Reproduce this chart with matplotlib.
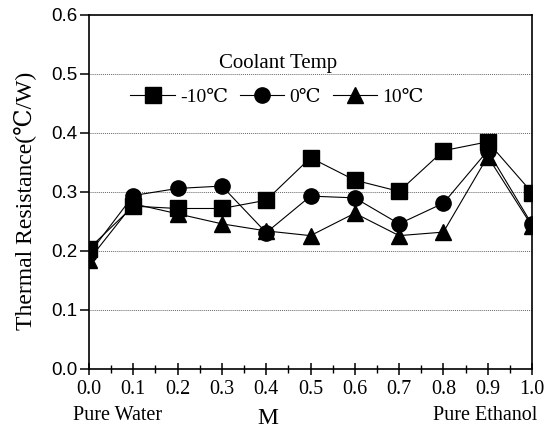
import matplotlib
matplotlib.use("Agg")
import matplotlib.pyplot as plt
from matplotlib.ticker import MultipleLocator

M = [0.0, 0.1, 0.2, 0.3, 0.4, 0.5, 0.6, 0.7, 0.8, 0.9, 1.0]
r_m10 = [0.204, 0.276, 0.272, 0.272, 0.286, 0.358, 0.320, 0.301, 0.370, 0.385, 0.299]
r_0 = [0.195, 0.294, 0.306, 0.310, 0.231, 0.293, 0.290, 0.246, 0.281, 0.370, 0.245]
r_10 = [0.185, 0.280, 0.263, 0.246, 0.234, 0.226, 0.264, 0.226, 0.232, 0.360, 0.242]
labels = ["-10\u2103", "0\u2103", "10\u2103"]
yticks = [0.0, 0.1, 0.2, 0.3, 0.4, 0.5, 0.6]
xticks = M

serif = ["Liberation Serif", "DejaVu Serif"]
sans = ["Liberation Sans", "DejaVu Sans"]

fig = plt.figure(figsize=(5.47, 4.30), dpi=100)
ax = fig.add_axes([0.1627, 0.1419, 0.8099, 0.8233])

ax.plot(M, r_m10, color="black", lw=0.8, marker="s", ms=11, label=labels[0], zorder=3)
ax.plot(M, r_0, color="black", lw=0.8, marker="o", ms=11, label=labels[1], zorder=3)
ax.plot(M, r_10, color="black", lw=0.8, marker="^", ms=12, label=labels[2], zorder=3)

ax.set_xlim(0, 1.0)
ax.set_ylim(0, 0.6)
ax.set_yticks(yticks)
ax.set_yticklabels([f"{v:.1f}" for v in yticks], family=sans, fontsize=13.5)
ax.set_xticks(xticks)
ax.set_xticklabels([f"{v:.1f}" for v in xticks], family=serif, fontsize=14.5)
ax.xaxis.set_minor_locator(MultipleLocator(0.05))
ax.tick_params(axis="x", which="major", direction="inout", length=8.5, width=1.1, pad=4)
ax.tick_params(axis="x", which="minor", direction="inout", length=5.8, width=1.0)
ax.tick_params(axis="y", which="major", direction="out", length=6.5, width=1.1, pad=2)

for y in yticks[1:-1]:
    ax.axhline(y, color="#666666", lw=0.7, ls=(0, (1, 1)), zorder=1)

for s in ax.spines.values():
    s.set_linewidth(1.2)

ax.set_ylabel("Thermal Resistance(\u2103/W)", family=serif, fontsize=17)
ax.yaxis.label.set_va("center")
ax.yaxis.set_label_coords(-0.1445, 0.4746)

ax.text(-0.036, -0.144, "Pure Water", transform=ax.transAxes, ha="left", va="baseline",
        family=serif, fontsize=14.5)
ax.text(0.404, -0.156, "M", transform=ax.transAxes, ha="center", va="baseline",
        family=serif, fontsize=17)
ax.text(1.011, -0.144, "Pure Ethanol", transform=ax.transAxes, ha="right", va="baseline",
        family=serif, fontsize=14.5)

ax.text(0.4266, 0.850, "Coolant Temp", transform=ax.transAxes, ha="center", va="baseline",
        family=serif, fontsize=15)
leg = ax.legend(loc="center", bbox_to_anchor=(0.4244, 0.768), ncol=3, frameon=False,
                prop={"family": serif, "size": 14},
                handlelength=2.3, handletextpad=0.25, columnspacing=0.6, borderpad=0,
                borderaxespad=0)

fig.savefig("out.png", dpi=100)
